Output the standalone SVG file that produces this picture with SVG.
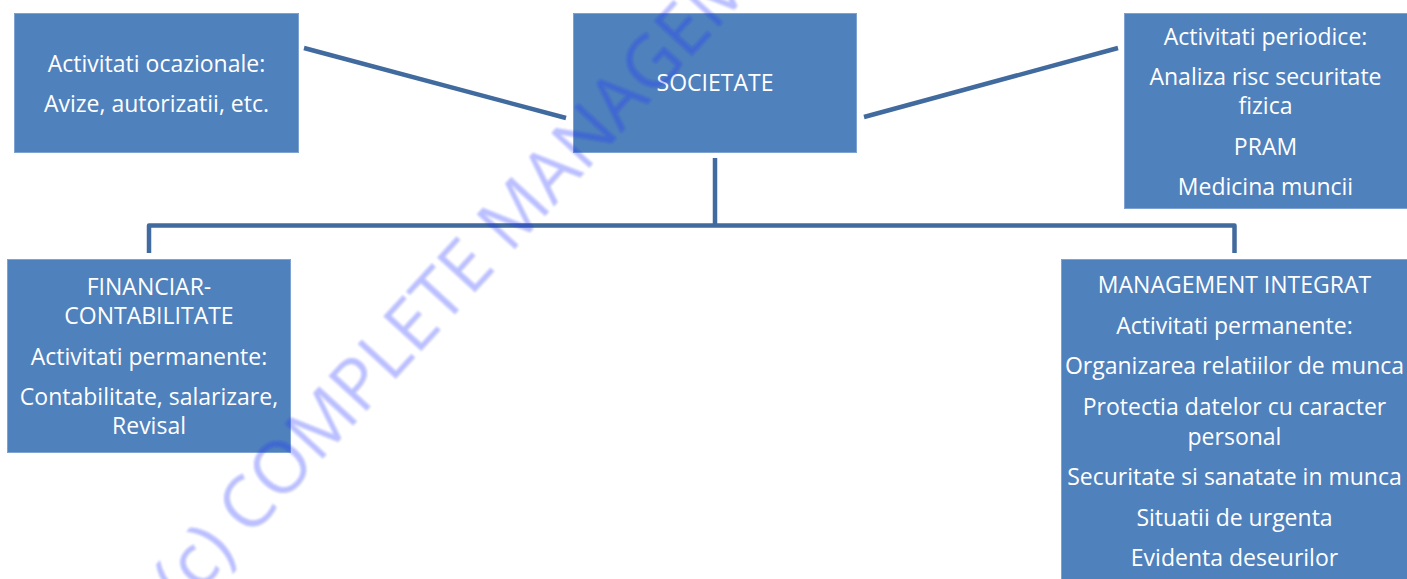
<svg xmlns="http://www.w3.org/2000/svg" width="1407" height="579" viewBox="0 0 1407 579">
<defs>
<style>
.box{fill:#4f81bd;stroke:#7ea3d3;stroke-width:1}
.t{font-family:"Open Sans","Noto Sans",sans-serif;font-size:23px;fill:#ffffff;text-anchor:middle}
.c{fill:none;stroke:#416a9e;stroke-width:4.5;stroke-linejoin:round}
.wm{font-family:"Open Sans","Noto Sans",sans-serif;font-size:72px;fill:#1a2cff;opacity:0.3}
</style>
<filter id="soft" x="-5%" y="-5%" width="110%" height="110%"><feGaussianBlur stdDeviation="1.1"/></filter>
</defs>
<rect width="1407" height="579" fill="#ffffff"/>
<g id="connectors">
<line class="c" x1="304" y1="48" x2="566" y2="118"/>
<line class="c" x1="864" y1="117" x2="1118" y2="48"/>
<line class="c" x1="715" y1="158" x2="715" y2="225.5"/>
<path class="c" d="M149,253 V225.5 H1234.5 V253"/>
</g>
<g id="node-ocazionale">
<rect class="box" x="14.5" y="13.5" width="284" height="139"/>
<text class="t" x="156.5" y="72">Activitati ocazionale:</text>
<text class="t" x="156.5" y="112">Avize, autorizatii, etc.</text>
</g>
<g id="node-societate">
<rect class="box" x="573.5" y="13.5" width="283" height="139"/>
<text class="t" x="715" y="91">SOCIETATE</text>
</g>
<g id="node-periodice">
<rect class="box" x="1124.5" y="13.5" width="290" height="195"/>
<text class="t" x="1265.5" y="45">Activitati periodice:</text>
<text class="t" x="1265.5" y="85">Analiza risc securitate</text>
<text class="t" x="1265.5" y="114">fizica</text>
<text class="t" x="1265.5" y="155">PRAM</text>
<text class="t" x="1265.5" y="195">Medicina muncii</text>
</g>
<g id="node-financiar">
<rect class="box" x="7.5" y="259.5" width="283" height="193"/>
<text class="t" x="149" y="295">FINANCIAR-</text>
<text class="t" x="149" y="324">CONTABILITATE</text>
<text class="t" x="149" y="365">Activitati permanente:</text>
<text class="t" x="149" y="405">Contabilitate, salarizare,</text>
<text class="t" x="149" y="434">Revisal</text>
</g>
<g id="node-management">
<rect class="box" x="1061.5" y="259.5" width="355" height="330"/>
<text class="t" x="1234.5" y="293">MANAGEMENT INTEGRAT</text>
<text class="t" x="1234.5" y="334">Activitati permanente:</text>
<text class="t" x="1234.5" y="374">Organizarea relatiilor de munca</text>
<text class="t" x="1234.5" y="415">Protectia datelor cu caracter</text>
<text class="t" x="1234.5" y="445">personal</text>
<text class="t" x="1234.5" y="485">Securitate si sanatate in munca</text>
<text class="t" x="1234.5" y="526">Situatii de urgenta</text>
<text class="t" x="1234.5" y="566">Evidenta deseurilor</text>
</g>
<g id="watermark" filter="url(#soft)">
<text class="wm" transform="translate(185,609) rotate(-47.5)" x="0" y="0">(c) COMPLETE MANAGEMENT</text>
</g>
</svg>
